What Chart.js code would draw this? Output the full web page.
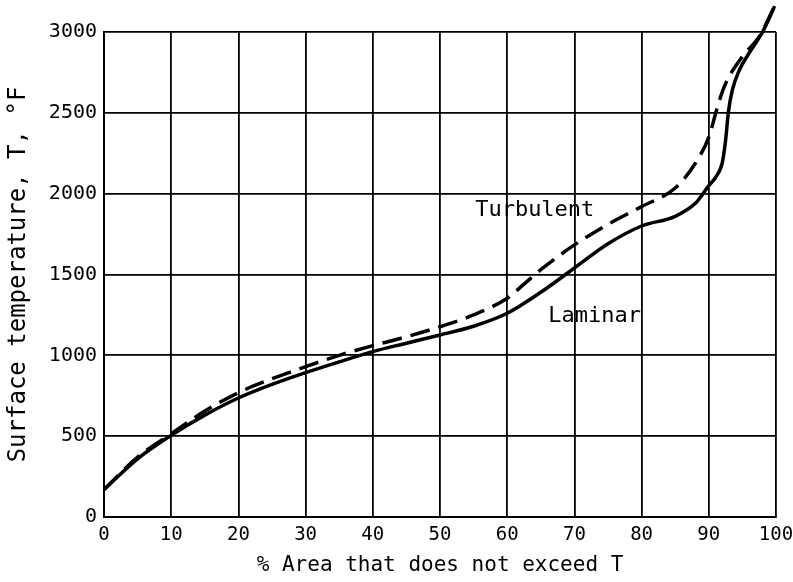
<!DOCTYPE html>
<html>
<head>
<meta charset="utf-8">
<script src="https://cdn.jsdelivr.net/npm/chart.js@4/dist/chart.umd.min.js"></script>
<style>
  html, body { margin: 0; padding: 0; background: #fff; }
  #wrap { width: 793px; height: 582px; }
</style>
</head>
<body>
<div id="wrap"><canvas id="chart"></canvas></div>
<script>
// values
const laminarX = [0, 5, 10, 15, 20, 25, 30, 35, 40, 45, 50, 55, 60, 65, 70, 75, 80, 85, 88, 90, 91, 92, 92.5, 92.9, 93.5, 94.5, 96, 98, 99.8];
const laminarY = [170, 360, 505, 630, 736, 820, 893, 960, 1023, 1075, 1126, 1180, 1260, 1390, 1540, 1690, 1800, 1860, 1940, 2050, 2100, 2190, 2330, 2500, 2640, 2760, 2870, 3000, 3160];

const turbulentX = [0, 5, 10, 15, 20, 25, 30, 35, 40, 45, 50, 55, 60, 62.5, 65, 70, 75, 80, 85, 88, 90, 91.3, 92.3, 95, 97.5, 99.8];
const turbulentY = [170, 370, 515, 655, 769, 855, 930, 1000, 1060, 1115, 1177, 1250, 1353, 1440, 1530, 1683, 1810, 1920, 2035, 2188, 2350, 2538, 2662, 2848, 2971, 3160];

const xTicks = [0, 10, 20, 30, 40, 50, 60, 70, 80, 90, 100];
const yTicks = [0, 500, 1000, 1500, 2000, 2500, 3000];

// curve labels, placed in data units
const curveLabels = [
  { text: "Turbulent", x: 64.1, y: 1895 },
  { text: "Laminar", x: 73.0, y: 1239 }
];

const FONT = "'DejaVu Sans Mono', 'Liberation Mono', monospace";

function toPoints(xs, ys) {
  return xs.map((x, i) => ({ x: x, y: ys[i] }));
}

const labelPlugin = {
  id: "curveLabels",
  afterDatasetsDraw(chart) {
    const ctx = chart.ctx;
    const xs = chart.scales.x, ys = chart.scales.y;
    ctx.save();
    ctx.fillStyle = "#000";
    ctx.font = "22px " + FONT;
    ctx.textAlign = "center";
    ctx.textBaseline = "middle";
    curveLabels.forEach(l => {
      ctx.fillText(l.text, xs.getPixelForValue(l.x), ys.getPixelForValue(l.y));
    });
    ctx.restore();
  }
};

new Chart(document.getElementById("chart"), {
  type: "scatter",
  data: {
    datasets: [
      {
        label: "Laminar",
        data: toPoints(laminarX, laminarY),
        showLine: true,
        borderColor: "#000",
        borderWidth: 3.5,
        pointRadius: 0,
        cubicInterpolationMode: "monotone",
        clip: false
      },
      {
        label: "Turbulent",
        data: toPoints(turbulentX, turbulentY),
        showLine: true,
        borderColor: "#000",
        borderWidth: 3.5,
        borderDash: [20, 9],
        pointRadius: 0,
        cubicInterpolationMode: "monotone",
        clip: false
      }
    ]
  },
  options: {
    responsive: true,
    maintainAspectRatio: false,
    animation: false,
    layout: { padding: { left: 4, right: 17, top: 32, bottom: 4 } },
    plugins: {
      legend: { display: false },
      tooltip: { enabled: false }
    },
    scales: {
      x: {
        type: "linear",
        min: 0,
        max: 100,
        afterBuildTicks: s => { s.ticks = xTicks.map(v => ({ value: v })); },
        afterFit: s => { s.height = 582 - 517 - 4; s.paddingLeft = 0; s.paddingRight = 0; },
        grid: { color: "#000", lineWidth: 1.8, drawTicks: false },
        border: { color: "#000", width: 2 },
        ticks: { color: "#000", padding: 7, maxRotation: 0, font: { family: FONT, size: 19 }, callback: v => String(v) },
        title: {
          display: true,
          text: "% Area that does not exceed T",
          color: "#000",
          padding: 0,
          font: { family: FONT, size: 21 }
        }
      },
      y: {
        min: 0,
        max: 3000,
        afterBuildTicks: s => { s.ticks = yTicks.map(v => ({ value: v })); },
        afterFit: s => { s.width = 104 - 4; s.paddingTop = 0; s.paddingBottom = 0; },
        grid: { color: "#000", lineWidth: 1.8, drawTicks: false },
        border: { color: "#000", width: 2 },
        ticks: { color: "#000", padding: 7, font: { family: FONT, size: 20 }, callback: v => String(v) },
        title: {
          display: true,
          text: "Surface temperature, T, °F",
          color: "#000",
          padding: 0,
          font: { family: FONT, size: 24 }
        }
      }
    }
  },
  plugins: [labelPlugin]
});
</script>
</body>
</html>
